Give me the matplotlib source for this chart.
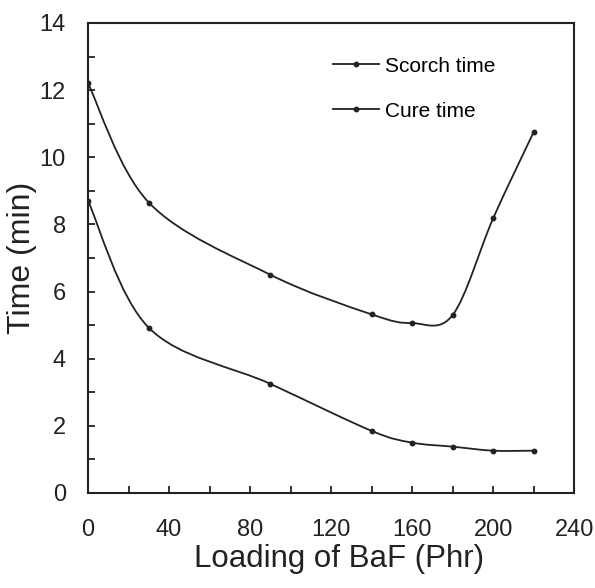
import matplotlib
matplotlib.use("Agg")
import matplotlib.pyplot as plt
import numpy as np
from matplotlib.path import Path
from matplotlib.patches import PathPatch
from matplotlib.lines import Line2D

plt.rcParams["font.family"] = ["Liberation Sans", "DejaVu Sans"]

loading = [0, 30, 90, 140, 160, 180, 200, 220]
scorch_time = [8.7, 4.92, 3.25, 1.85, 1.5, 1.38, 1.26, 1.26]
cure_time = [12.2, 8.65, 6.5, 5.32, 5.06, 5.3, 8.18, 10.75]

INK = "#222222"


def smooth_path(xs, ys):
    """Excel-style smoothed line: cubic Bezier segments through the points."""
    p = np.column_stack([xs, ys]).astype(float)
    verts = [p[0]]
    codes = [Path.MOVETO]
    n = len(p)
    for i in range(n - 1):
        p0 = p[i - 1] if i > 0 else p[i]
        p3 = p[i + 2] if i + 2 < n else p[i + 1]
        c1 = p[i] + (p[i + 1] - p0) / 6
        c2 = p[i + 1] - (p3 - p[i]) / 6
        verts += [c1, c2, p[i + 1]]
        codes += [Path.CURVE4] * 3
    return Path(verts, codes)


fig = plt.figure(figsize=(5.95, 5.88), dpi=100)
ax = fig.add_axes([0.148, 0.1616, 0.817, 0.7994])

for ys in (scorch_time, cure_time):
    ax.add_patch(PathPatch(smooth_path(loading, ys), fill=False, ec=INK, lw=1.3))
    ax.plot(loading, ys, ls="none", marker="o", ms=3.2, color=INK)

handles = [Line2D([], [], color=INK, lw=1.3, marker="o", ms=3.2) for _ in range(2)]
ax.legend(handles, ["Scorch time", "Cure time"], frameon=False, fontsize=15,
          loc="upper left", bbox_to_anchor=(0.465, 0.968), labelspacing=1.25,
          handlelength=2.2, handletextpad=0.3)

ax.set_xlim(0, 240)
ax.set_ylim(0, 14)
ax.set_xticks(np.arange(0, 241, 40))
ax.set_xticks(np.arange(0, 241, 20), minor=True)
ax.set_yticks(np.arange(0, 15, 2))
ax.set_yticks(np.arange(0, 15, 1), minor=True)
ax.tick_params(which="both", direction="in", top=False, right=False,
               color=INK, width=1.3, length=5, labelsize=17, labelcolor=INK)
ax.tick_params(axis="x", pad=19)
ax.tick_params(axis="y", pad=16)
for s in ax.spines.values():
    s.set_linewidth(1.5)
    s.set_color(INK)

ax.set_xlabel("Loading of BaF (Phr)", fontsize=22.5, color=INK)
ax.xaxis.set_label_coords(0.516, -0.108)
ax.set_ylabel("Time (min)", fontsize=23, color=INK, labelpad=2)

fig.savefig("out.png", dpi=100)
